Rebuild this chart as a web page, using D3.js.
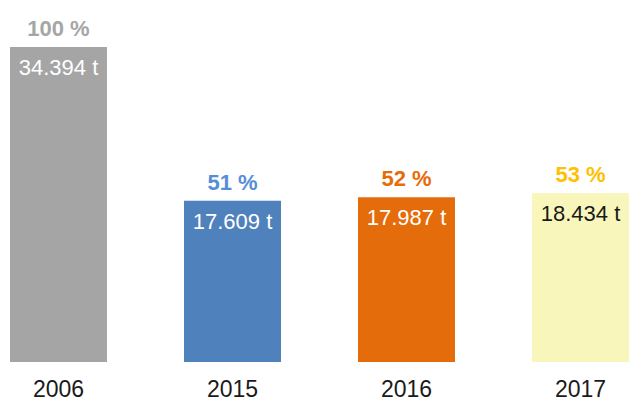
<!DOCTYPE html>
<html>
<head>
<meta charset="utf-8">
<script src="https://cdn.jsdelivr.net/npm/d3@7"></script>
<style>
  html, body { margin: 0; padding: 0; background: #ffffff; }
  svg { display: block; }
  text { font-family: "Liberation Sans", Arial, sans-serif; }
</style>
</head>
<body>
<svg id="chart" width="629" height="401"></svg>
<script>
// Yearly tonnage and share relative to 2006
const years = ["2006", "2015", "2016", "2017"];
const tonnes = [34394, 17609, 17987, 18434];
const tonneLabels = ["34.394 t", "17.609 t", "17.987 t", "18.434 t"];
const shareLabels = ["100 %", "51 %", "52 %", "53 %"];

const barColors = ["#a5a5a5", "#4f81bd", "#e46c0a", "#f9f6bb"];
const shareColors = ["#a6a6a6", "#558ed5", "#e46c0a", "#ffc000"];
const valueColors = ["#ffffff", "#ffffff", "#ffffff", "#1a1a1a"];

const svg = d3.select("#chart");

const x = d3.scaleBand()
  .domain(years)
  .range([10, 629])
  .paddingInner(0.4425)
  .paddingOuter(0);

const y = d3.scaleLinear()
  .domain([0, d3.max(tonnes)])
  .range([362, 47]);

const rows = years.map((yr, i) => ({
  year: yr, value: tonnes[i], label: tonneLabels[i], share: shareLabels[i], i
}));

// bars
svg.append("g").selectAll("rect")
  .data(rows)
  .join("rect")
  .attr("x", d => x(d.year))
  .attr("y", d => y(d.value))
  .attr("width", x.bandwidth())
  .attr("height", d => y(0) - y(d.value))
  .attr("fill", d => barColors[d.i]);

// share labels above bars
svg.append("g").selectAll("text")
  .data(rows)
  .join("text")
  .attr("x", d => x(d.year) + x.bandwidth() / 2)
  .attr("y", d => y(d.value) - 11)
  .attr("text-anchor", "middle")
  .attr("font-size", 22)
  .attr("font-weight", "bold")
  .attr("fill", d => shareColors[d.i])
  .text(d => d.share);

// tonnage labels inside bars
svg.append("g").selectAll("text")
  .data(rows)
  .join("text")
  .attr("x", d => x(d.year) + x.bandwidth() / 2)
  .attr("y", d => y(d.value) + 28)
  .attr("text-anchor", "middle")
  .attr("font-size", 22)
  .attr("fill", d => valueColors[d.i])
  .text(d => d.label);

// category axis without line or ticks
const axis = svg.append("g")
  .attr("transform", `translate(0,${y(0)})`)
  .call(d3.axisBottom(x).tickSize(0).tickPadding(0));
axis.select(".domain").remove();
axis.selectAll("text")
  .attr("dy", null)
  .attr("y", 35)
  .attr("font-size", 23)
  .attr("font-family", "Liberation Sans, Arial, sans-serif")
  .attr("fill", "#1a1a1a");
</script>
</body>
</html>
